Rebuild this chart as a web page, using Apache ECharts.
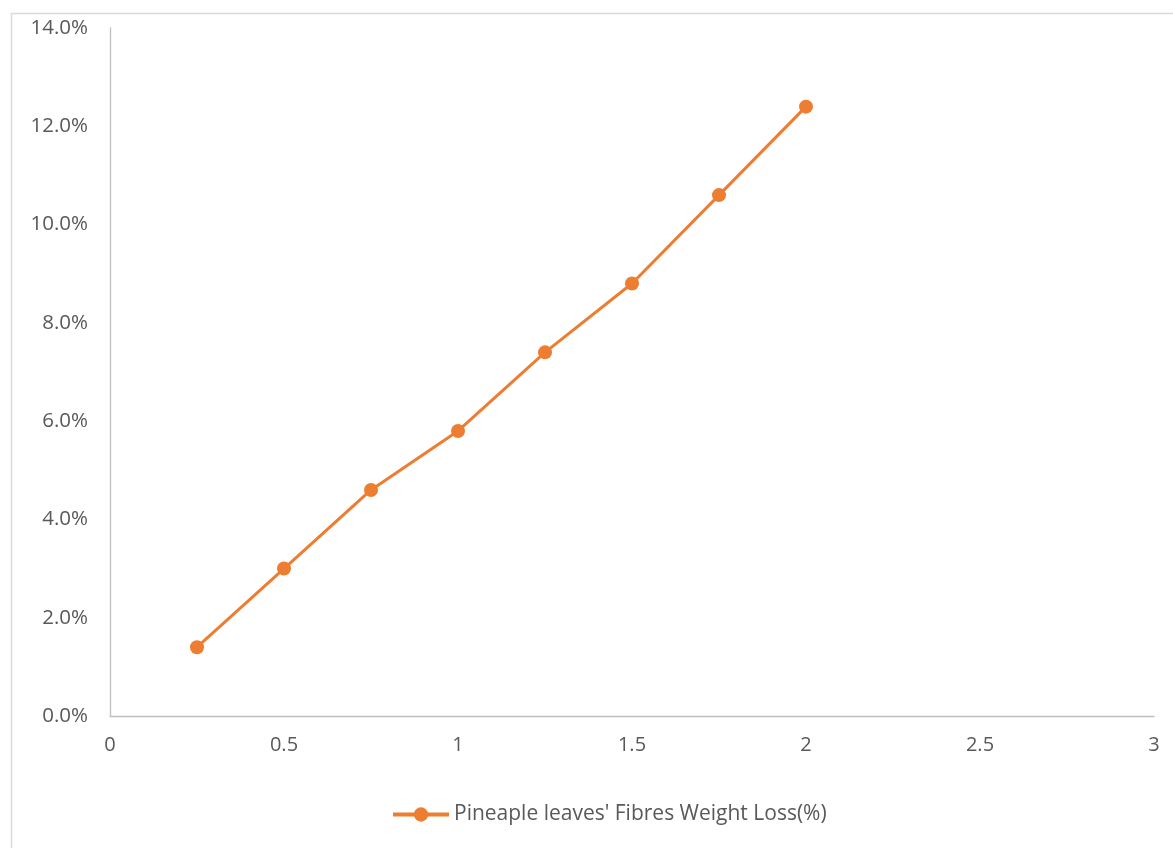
<!DOCTYPE html>
<html>
<head>
<meta charset="utf-8">
<script src="https://cdn.jsdelivr.net/npm/echarts@6/dist/echarts.min.js"></script>
<style>
  html, body { margin: 0; padding: 0; background: #ffffff; }
  #chart { width: 1173px; height: 848px; }
</style>
</head>
<body>
<div id="chart"></div>
<script>
// Fibre concentration (x) and weight loss in percent (y)
const xValues = [0.25, 0.5, 0.75, 1, 1.25, 1.5, 1.75, 2];
const weightLoss = [1.4, 3.0, 4.6, 5.8, 7.4, 8.8, 10.6, 12.4];
const seriesName = "Pineaple leaves' Fibres Weight Loss(%)";

const points = xValues.map((x, i) => [x, weightLoss[i]]);
const labelFont = '"Open Sans", sans-serif';

const chart = echarts.init(document.getElementById('chart'), null, { renderer: 'canvas' });
chart.setOption({
  animation: false,
  backgroundColor: '#ffffff',
  graphic: [{
    type: 'rect',
    shape: { x: 11.5, y: 13.5, width: 1200, height: 900 },
    style: { fill: 'none', stroke: '#d9d9d9', lineWidth: 1.5 },
    silent: true
  }],
  grid: { left: 110, right: 19, top: 28, bottom: 132, containLabel: false },
  xAxis: {
    type: 'value',
    min: 0, max: 3, interval: 0.5,
    axisLine: { show: true, lineStyle: { color: '#bfbfbf', width: 1.3 } },
    axisTick: { show: false },
    splitLine: { show: false },
    axisLabel: { color: '#595959', fontSize: 20, fontFamily: labelFont, margin: 19 }
  },
  yAxis: {
    type: 'value',
    min: 0, max: 14, interval: 2,
    axisLine: { show: true, lineStyle: { color: '#bfbfbf', width: 1.3 } },
    axisTick: { show: false },
    splitLine: { show: false },
    axisLabel: {
      color: '#595959', fontSize: 20.5, fontFamily: labelFont, margin: 22,
      formatter: v => v.toFixed(1) + '%'
    }
  },
  legend: {
    bottom: 18,
    left: 386,
    itemWidth: 56,
    itemHeight: 18,
    itemGap: 10,
    lineStyle: { width: 4 },
    textStyle: { color: '#595959', fontSize: 21, fontFamily: labelFont },
    data: [{ name: seriesName }]
  },
  series: [{
    name: seriesName,
    type: 'line',
    data: points,
    symbol: 'circle',
    symbolSize: 14,
    lineStyle: { color: '#ED7D31', width: 3 },
    itemStyle: { color: '#ED7D31' }
  }]
});
</script>
</body>
</html>
